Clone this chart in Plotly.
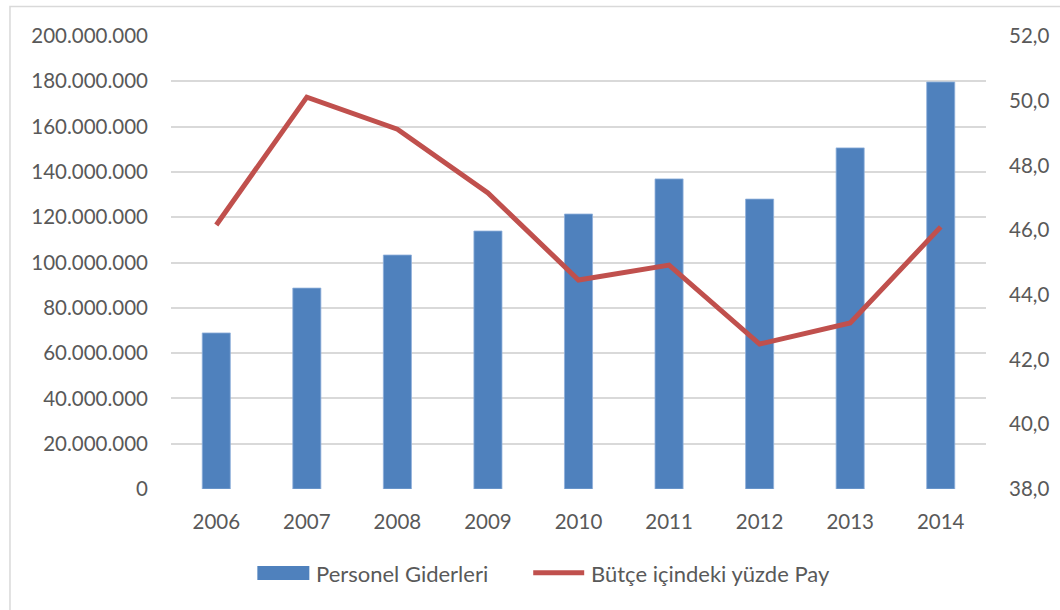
import plotly.graph_objects as go

years = ["2006", "2007", "2008", "2009", "2010", "2011", "2012", "2013", "2014"]
personel = [68.9e6, 88.7e6, 103.3e6, 113.9e6, 121.4e6, 136.9e6, 128.0e6, 150.6e6, 179.7e6]
pay = [46.16, 50.11, 49.12, 47.15, 44.46, 44.92, 42.48, 43.13, 46.10]
series_names = ["Personel Giderleri", "Bütçe içindeki yüzde Pay"]
bar_color = "#4F81BD"
line_color = "#C0504D"

W, H = 1060, 610
L, R, T, B = 170.6, 986.0, 36.0, 489.0
pw, ph = R - L, B - T

def px(x):
    return (x - L) / pw

def py(y):
    return (B - y) / ph

font = dict(family="Lato, 'Open Sans', sans-serif", size=20.5, color="#595959")
legfont = dict(family="Lato, 'Open Sans', sans-serif", size=22, color="#595959")

fig = go.Figure()
fig.add_trace(go.Bar(
    x=years, y=personel, name=series_names[0],
    marker=dict(color=bar_color, line=dict(color="#8fb0da", width=0.8)),
    yaxis="y",
))
fig.add_trace(go.Scatter(
    x=years, y=pay, name=series_names[1],
    mode="lines", line=dict(color=line_color, width=5),
    yaxis="y2",
))

shapes = [
    dict(type="rect", xref="paper", yref="paper",
         x0=px(9.5), x1=px(1070), y0=py(6.5), y1=py(620),
         line=dict(color="#d9d9d9", width=1.5), fillcolor="rgba(0,0,0,0)", layer="below"),
    # legend swatches
    dict(type="rect", xref="paper", yref="paper",
         x0=px(257), x1=px(309), y0=py(580), y1=py(566),
         line=dict(width=0), fillcolor=bar_color),
    dict(type="line", xref="paper", yref="paper",
         x0=px(533), x1=px(584), y0=py(572.7), y1=py(572.7),
         line=dict(color=line_color, width=5)),
]
annotations = [
    dict(text=series_names[0], xref="paper", yref="paper", x=px(314), y=py(573),
         xanchor="left", yanchor="middle", showarrow=False, font=legfont),
    dict(text=series_names[1], xref="paper", yref="paper", x=px(589), y=py(573),
         xanchor="left", yanchor="middle", showarrow=False, font=legfont),
]

fig.update_layout(
    width=W, height=H,
    margin=dict(l=L, r=W - R, t=T, b=H - B, pad=0),
    paper_bgcolor="white", plot_bgcolor="white",
    separators=",.",
    font=font,
    bargap=0.69,
    showlegend=False,
    xaxis=dict(type="category", showgrid=False, ticks="", showline=False,
               tickfont=font, ticklabelstandoff=18),
    yaxis=dict(range=[0, 200e6], dtick=20e6, tickformat=",d", showgrid=True,
               gridcolor="#d9d9d9", gridwidth=1.5, zeroline=False, showline=False,
               ticks="", tickfont=font, ticklabelstandoff=22),
    yaxis2=dict(range=[38, 52], dtick=2, tickformat=".1f", overlaying="y", side="right",
                showgrid=False, zeroline=False, showline=False, ticks="",
                tickfont=font, ticklabelstandoff=22),
    shapes=shapes,
    annotations=annotations,
)

fig.write_html("out.html", config={"displayModeBar": False},
               post_script="document.body.style.margin='0';")
